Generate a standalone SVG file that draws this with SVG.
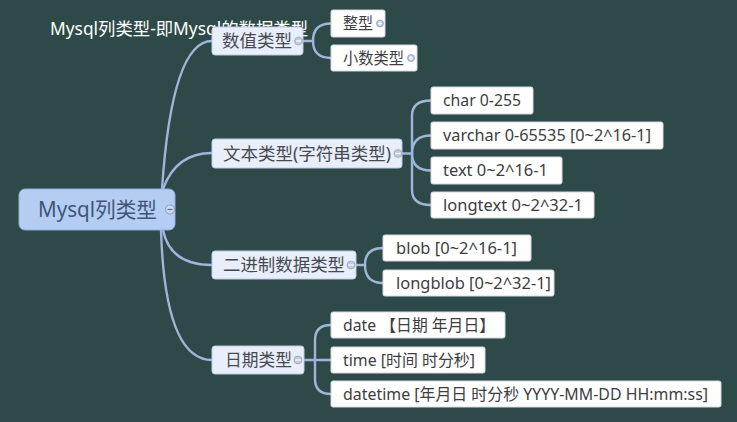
<svg xmlns="http://www.w3.org/2000/svg" width="737" height="422" viewBox="0 0 737 422">
<style>
.bg{fill:#2d4a48}
.title{font-family:"Noto Sans","Noto Sans CJK SC",sans-serif;font-size:17.5px;fill:#ffffff}
.root rect{fill:#b6cdf3;stroke:#8fb0e2;stroke-width:1}
.root text{font-family:"Noto Sans","Noto Sans CJK SC",sans-serif;font-size:21px;fill:#3e5679}
.mid rect{fill:#e8eefa;stroke:#bccbe6;stroke-width:1}
.mid text{font-family:"Noto Sans","Noto Sans CJK SC",sans-serif;font-size:17.5px;fill:#474a50}
.leaf rect{fill:#ffffff;stroke:#d4d8de;stroke-width:1}
.leaf text{font-family:"Noto Sans","Noto Sans CJK SC",sans-serif;font-size:16px;fill:#3c3e42}
.tog{fill:#c3cbdb;stroke:#9aa6bd;stroke-width:0.8}
.togl{stroke:#ffffff;stroke-width:1.2}
.rtog{fill:#d2dbec;stroke:#7d8fae;stroke-width:0.8}
.rtogl{stroke:#5a6c8c;stroke-width:1.2}
.ptog{fill:#b9c8e3;stroke:#8ea0c4;stroke-width:0.8}
.conn path{fill:none;stroke:#9fb5d9;stroke-width:2.4;stroke-linecap:round}
</style>
<rect class="bg" x="0" y="0" width="737" height="422"/>
<text class="title" x="50" y="35" textLength="258" lengthAdjust="spacingAndGlyphs">Mysql列类型-即Mysql的数据类型</text>
<g class="conn" id="connectors">
<path d="M162,189 Q172,41 212,41"/>
<path d="M163,189 Q176,153 212,153"/>
<path d="M163,230 Q170,265 212,265"/>
<path d="M161,230 Q165,360 212,360"/>
<path d="M303,41 L313,41 Q313,23.5 331,23.5"/>
<path d="M313,41 Q313,58 331,58"/>
<path d="M402,153.5 L412,153.5 L412,116 Q412,100.5 431,100.5"/>
<path d="M412,153.5 Q412,135.5 431,135.5"/>
<path d="M412,153.5 Q412,170.5 431,170.5"/>
<path d="M412,153.5 L412,190 Q412,205 431,205"/>
<path d="M356,265 L365,265 Q365,248 383,248"/>
<path d="M365,265 Q365,283 383,283"/>
<path d="M304,360 L331,360"/>
<path d="M315,360 L315,340 Q315,325 331,325"/>
<path d="M315,360 L315,379 Q315,394 331,394"/>
</g>
<g class="root" id="n-root">
<rect x="19" y="189" width="156" height="41" rx="6"/>
<text x="38" y="217" textLength="119" lengthAdjust="spacingAndGlyphs">Mysql列类型</text>
<circle class="rtog" cx="170" cy="209.5" r="4.5"/><line class="rtogl" x1="167.5" y1="209.5" x2="172.5" y2="209.5"/>
</g>
<g class="mid" id="n-numeric">
<rect x="212" y="27" width="91" height="28" rx="3"/>
<text x="222" y="47" textLength="70" lengthAdjust="spacingAndGlyphs">数值类型</text>
<circle class="tog" cx="298.5" cy="41" r="4"/><line class="togl" x1="296" y1="41" x2="301" y2="41"/>
</g>
<g class="leaf" id="n-int">
<rect x="331" y="10" width="54" height="27" rx="2"/>
<text x="343" y="29" textLength="30" lengthAdjust="spacingAndGlyphs">整型</text>
<circle class="ptog" cx="380" cy="23.5" r="3.5"/><line class="togl" x1="378" y1="23.5" x2="382" y2="23.5"/><line class="togl" x1="380" y1="21.5" x2="380" y2="25.5"/>
</g>
<g class="leaf" id="n-decimal">
<rect x="331" y="45" width="86" height="26" rx="2"/>
<text x="343" y="63.5" textLength="61" lengthAdjust="spacingAndGlyphs">小数类型</text>
<circle class="ptog" cx="411" cy="58" r="3.5"/><line class="togl" x1="409" y1="58" x2="413" y2="58"/><line class="togl" x1="411" y1="56" x2="411" y2="60"/>
</g>
<g class="mid" id="n-text">
<rect x="212" y="139" width="190" height="29" rx="3"/>
<text x="223" y="159.5" textLength="168" lengthAdjust="spacingAndGlyphs">文本类型(字符串类型)</text>
<circle class="tog" cx="398" cy="153.5" r="4"/><line class="togl" x1="395.5" y1="153.5" x2="400.5" y2="153.5"/>
</g>
<g class="leaf" id="n-char">
<rect x="431" y="87" width="102" height="27" rx="2"/>
<text x="443" y="106" textLength="78" lengthAdjust="spacingAndGlyphs">char 0-255</text>
</g>
<g class="leaf" id="n-varchar">
<rect x="431" y="122" width="232" height="27" rx="2"/>
<text x="443" y="141" textLength="208" lengthAdjust="spacingAndGlyphs">varchar 0-65535 [0~2^16-1]</text>
</g>
<g class="leaf" id="n-textt">
<rect x="431" y="157" width="131" height="27" rx="2"/>
<text x="443" y="176" textLength="105" lengthAdjust="spacingAndGlyphs">text 0~2^16-1</text>
</g>
<g class="leaf" id="n-longtext">
<rect x="431" y="192" width="163" height="26" rx="2"/>
<text x="443" y="210.5" textLength="140" lengthAdjust="spacingAndGlyphs">longtext 0~2^32-1</text>
</g>
<g class="mid" id="n-binary">
<rect x="212" y="251" width="144" height="28" rx="3"/>
<text x="223" y="271" textLength="122" lengthAdjust="spacingAndGlyphs">二进制数据类型</text>
<circle class="tog" cx="351" cy="265" r="4"/><line class="togl" x1="348.5" y1="265" x2="353.5" y2="265"/>
</g>
<g class="leaf" id="n-blob">
<rect x="383" y="235" width="148" height="26" rx="2"/>
<text x="396" y="253.5" textLength="121" lengthAdjust="spacingAndGlyphs">blob [0~2^16-1]</text>
</g>
<g class="leaf" id="n-longblob">
<rect x="383" y="270" width="171" height="26" rx="2"/>
<text x="396" y="288.5" textLength="155" lengthAdjust="spacingAndGlyphs">longblob [0~2^32-1]</text>
</g>
<g class="mid" id="n-date">
<rect x="212" y="346" width="92" height="28" rx="3"/>
<text x="225" y="366" textLength="67" lengthAdjust="spacingAndGlyphs">日期类型</text>
<circle class="tog" cx="298" cy="360" r="4"/><line class="togl" x1="295.5" y1="360" x2="300.5" y2="360"/>
</g>
<g class="leaf" id="n-dated">
<rect x="331" y="312" width="174" height="26" rx="2"/>
<text x="343" y="330.5" textLength="152" lengthAdjust="spacingAndGlyphs">date 【日期 年月日】</text>
</g>
<g class="leaf" id="n-time">
<rect x="331" y="347" width="154" height="26" rx="2"/>
<text x="343" y="365.5" textLength="132" lengthAdjust="spacingAndGlyphs">time [时间 时分秒]</text>
</g>
<g class="leaf" id="n-datetime">
<rect x="331" y="381" width="390" height="26" rx="2"/>
<text x="343" y="399.5" textLength="365" lengthAdjust="spacingAndGlyphs">datetime [年月日 时分秒 YYYY-MM-DD HH:mm:ss]</text>
</g>
</svg>
